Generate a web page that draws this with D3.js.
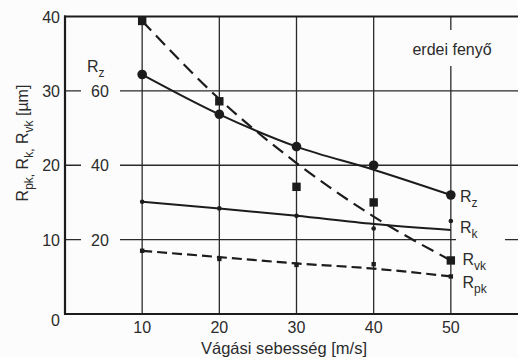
<!DOCTYPE html>
<html>
<head>
<meta charset="utf-8">
<script src="https://cdn.jsdelivr.net/npm/d3@7"></script>
<style>
  html, body { margin: 0; padding: 0; background: #fcfcfc; }
  svg { display: block; }
  text { font-family: "Liberation Sans", Arial, sans-serif; fill: #2b2b2b; }
</style>
</head>
<body>
<svg id="chart" width="518" height="358"></svg>
<script>
// Cutting speed (m/s)
const speeds = [10, 20, 30, 40, 50];

// Measured roughness values (µm); Rz is read on the inner 0–80 scale
const rzValues  = [64.4, 53.7, 45.0, 40.0, 32.0];
const rvkValues = [39.4, 28.6, 17.1, 15.0, 7.2];
const rkValues  = [15.1, 14.2, 13.2, 11.5, 12.5];
const rpkValues = [8.5, 7.4, 6.6, 6.7, 5.05];

// Fitted trend curves drawn through the measurements
const rzFit  = [64.4, 53.7, 45.0, 38.8, 32.0];
const rvkFit = [39.4, 28.9, 20.3, 13.1, 7.2];
const rkFit  = [15.1, 14.2, 13.2, 12.1, 11.3];
const rpkFit = [8.5, 7.65, 6.8, 6.1, 5.05];

// Tick labels
const xTicks = [10, 20, 30, 40, 50];
const yTicks = [0, 10, 20, 30, 40];
const rzTicks = [20, 40, 60];

const svg = d3.select("#chart");
const W = 518, H = 358;

const x = d3.scaleLinear().domain([0, 60]).range([65, 528]);
const y = d3.scaleLinear().domain([0, 40]).range([314, 16.5]);
const yRz = d3.scaleLinear().domain([0, 80]).range([314, 16.5]);

const ink = "#1c1c1c";

// grid
const grid = svg.append("g");
grid.selectAll("line.h").data(yTicks.filter(d => d > 0 && d < 40)).join("line")
  .attr("x1", x(0)).attr("x2", W)
  .attr("y1", d => y(d)).attr("y2", d => y(d))
  .attr("stroke", "#2a2a2a").attr("stroke-width", 1.3);
grid.selectAll("line.v").data(xTicks).join("line")
  .attr("x1", d => x(d)).attr("x2", d => x(d))
  .attr("y1", y(40)).attr("y2", y(0))
  .attr("stroke", "#2a2a2a").attr("stroke-width", 1.3);

// gaps in the grid behind inner labels
const masks = svg.append("g").attr("fill", "#fcfcfc");
masks.selectAll("rect.rz").data(rzTicks).join("rect")
  .attr("x", 81).attr("width", 39)
  .attr("y", d => yRz(d) - 6).attr("height", 12);
masks.append("rect").attr("x", 405).attr("width", 95).attr("y", 30).attr("height", 36);
masks.append("rect").attr("x", 456).attr("width", 49).attr("y", y(10) - 4).attr("height", 8);

// frame: left axis, bottom axis, top border
const frame = svg.append("g").attr("stroke", ink).attr("stroke-width", 2.2);
frame.append("line").attr("x1", x(0)).attr("x2", x(0)).attr("y1", y(40) - 1).attr("y2", y(0) + 1);
frame.append("line").attr("x1", x(0) - 1).attr("x2", W).attr("y1", y(0)).attr("y2", y(0));
frame.append("line").attr("x1", x(0) - 1).attr("x2", W).attr("y1", y(40)).attr("y2", y(40));

// axis tick labels
svg.append("g").selectAll("text").data(yTicks).join("text")
  .attr("x", 60).attr("y", d => y(d) + (d === 0 ? 12 : 6))
  .attr("text-anchor", "end").attr("font-size", 16).text(d => d);
svg.append("g").selectAll("text").data(rzTicks).join("text")
  .attr("x", 100).attr("y", d => yRz(d) + 6)
  .attr("text-anchor", "middle").attr("font-size", 16).text(d => d);
svg.append("g").selectAll("text").data(xTicks).join("text")
  .attr("x", d => x(d)).attr("y", 333)
  .attr("text-anchor", "middle").attr("font-size", 16).text(d => d);

// axis titles
svg.append("text").attr("x", 284).attr("y", 354)
  .attr("text-anchor", "middle").attr("font-size", 16.5).text("Vágási sebesség [m/s]");

// writes text pieces; subscripts are smaller and dropped below the baseline
function subLabel(sel, parts, big, small, shift) {
  let lowered = false;
  parts.forEach(p => {
    const ts = sel.append("tspan").text(p.t);
    if (p.sub) {
      ts.attr("font-size", small).attr("dy", lowered ? 0 : shift);
      lowered = true;
    } else {
      ts.attr("font-size", big).attr("dy", lowered ? -shift : 0);
      lowered = false;
    }
  });
}

const yTitle = svg.append("text")
  .attr("transform", "translate(28,143) rotate(-90)")
  .attr("text-anchor", "middle");
subLabel(yTitle, [
  { t: "R" }, { t: "pk,", sub: true }, { t: " R" }, { t: "k,", sub: true },
  { t: " R" }, { t: "vk", sub: true }, { t: " [µm]" }
], 16, 12, 5);

const rzTitle = svg.append("text").attr("x", 87).attr("y", 72);
subLabel(rzTitle, [{ t: "R" }, { t: "z", sub: true }], 16, 12, 5);

svg.append("text").attr("x", 452).attr("y", 55)
  .attr("text-anchor", "middle").attr("font-size", 16).text("erdei fenyő");

// data curves
const lineXY = yScale => d3.line()
  .x((d, i) => x(speeds[i]))
  .y(d => yScale(d))
  .curve(d3.curveMonotoneX);

const curves = svg.append("g").attr("fill", "none").attr("stroke", ink);
curves.append("path").attr("d", lineXY(yRz)(rzFit)).attr("stroke-width", 2);
curves.append("path").attr("d", lineXY(y)(rvkFit)).attr("stroke-width", 2.2)
  .attr("stroke-dasharray", "13,7");
curves.append("path").attr("d", lineXY(y)(rkFit)).attr("stroke-width", 2);
curves.append("path").attr("d", lineXY(y)(rpkFit)).attr("stroke-width", 2.2)
  .attr("stroke-dasharray", "10,5");

// markers
const marks = svg.append("g").attr("fill", ink);
marks.selectAll("circle.rz").data(rzValues).join("circle")
  .attr("cx", (d, i) => x(speeds[i])).attr("cy", d => yRz(d)).attr("r", 4.8);
marks.selectAll("rect.rvk").data(rvkValues).join("rect")
  .attr("x", (d, i) => x(speeds[i]) - 4.2).attr("y", d => y(d) - 4.2)
  .attr("width", 8.4).attr("height", 8.4);
marks.selectAll("circle.rk").data(rkValues).join("circle")
  .attr("cx", (d, i) => x(speeds[i])).attr("cy", d => y(d)).attr("r", 2.3);
marks.selectAll("rect.rpk").data(rpkValues).join("rect")
  .attr("x", (d, i) => x(speeds[i]) - 2.2).attr("y", d => y(d) - 2.2)
  .attr("width", 4.4).attr("height", 4.4);

// series labels at the right end
const endLabels = [
  { parts: [{ t: "R" }, { t: "z", sub: true }], x: 460, y: yRz(rzValues[4]) + 6.5 },
  { parts: [{ t: "R" }, { t: "k", sub: true }], x: 460, y: y(rkFit[4]) + 3.5 },
  { parts: [{ t: "R" }, { t: "vk", sub: true }], x: 462.5, y: y(rvkValues[4]) + 5 },
  { parts: [{ t: "R" }, { t: "pk", sub: true }], x: 462.5, y: y(rpkValues[4]) + 11.5 }
];
endLabels.forEach(l => {
  const t = svg.append("text").attr("x", l.x).attr("y", l.y);
  subLabel(t, l.parts, 16, 12, 5);
});
</script>
</body>
</html>
